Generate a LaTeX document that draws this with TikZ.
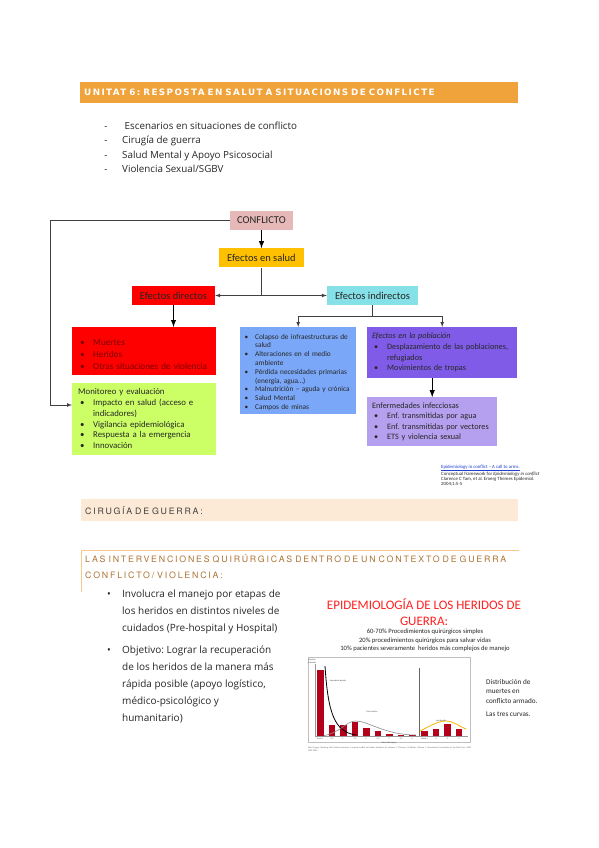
\documentclass[tikz,border=0pt]{standalone}
\usepackage{fontspec}
\setmainfont{Carlito}
\newfontfamily\bodyfont{Open Sans}
\newfontfamily\unitfont[LetterSpace=16]{DejaVu Sans}
\newfontfamily\cirfont[LetterSpace=20]{TeX Gyre Heros}
\newfontfamily\seccfont[LetterSpace=20.5]{TeX Gyre Heros}
\usetikzlibrary{positioning}
\hyphenpenalty=10000
\exhyphenpenalty=10000
\frenchspacing

\definecolor{unitorange}{HTML}{F0A33A}
\definecolor{peach}{HTML}{FCE9D6}
\definecolor{secbrown}{HTML}{AD7435}
\definecolor{secline}{HTML}{F6C98F}
\definecolor{txtdark}{HTML}{262626}
\definecolor{conflictopink}{HTML}{E6B9B8}
\definecolor{saludyellow}{HTML}{FFC000}
\definecolor{directred}{HTML}{FF0000}
\definecolor{darkred}{HTML}{7A0000}
\definecolor{indirectcyan}{HTML}{86E0E8}
\definecolor{monitorgreen}{HTML}{CCFF66}
\definecolor{infrablue}{HTML}{7AA7F7}
\definecolor{poblpurple}{HTML}{7F5BE8}
\definecolor{infeclav}{HTML}{B4A0EF}
\definecolor{citeblue}{HTML}{1F3FD0}
\definecolor{epired}{HTML}{FF2020}
\definecolor{barred}{HTML}{B3001B}
\definecolor{latecurve}{HTML}{F5B400}

\tikzstyle{headbox} = [rectangle, minimum height=19pt, inner sep=1pt, text=txtdark, font=\fontsize{10.5}{12}\selectfont]
\tikzstyle{listbox} = [rectangle, anchor=north west, align=left, text=txtdark]
\tikzstyle{conn} = [draw=black!75, line width=0.7pt]
\tikzstyle{bigarrow} = [->, draw=black, line width=1.4pt]
\tikzstyle{bodytext} = [anchor=north west, inner sep=0pt, align=left, text=txtdark, font=\bodyfont\fontsize{10}{17}\selectfont]
\tikzstyle{chartlbl} = [inner sep=0pt, text=black!70, font=\fontsize{2.2}{2.6}\selectfont, align=center]

\newcommand{\bitem}[2][15pt]{\par\noindent\makebox[#1][l]{\hspace*{.12\dimexpr#1\relax}\textbullet}#2}
\newcommand{\bcont}[2][15pt]{\par\noindent\hspace*{#1}#2}

\begin{document}
\begin{tikzpicture}[x=1pt, y=-1pt, node distance=18pt and 20pt, >=latex]
\useasboundingbox[fill=white] (0,0) rectangle (599,848);

\node[anchor=north west, fill=unitorange, text width=430pt, minimum height=21pt, inner xsep=4pt, align=left, text=white, font=\unitfont\bfseries\fontsize{8.8}{9}\selectfont] (unitat) at (80,82) {UNITAT 6: RESPOSTA EN SALUT A SITUACIONS DE CONFLICTE};

\foreach \t [count=\i] in {\ Escenarios en situaciones de conflicto, Cirugía de guerra, Salud Mental y Apoyo Psicosocial, Violencia Sexual/SGBV}{
  \node[anchor=base, inner sep=0pt, font=\bodyfont\fontsize{9.8}{12}\selectfont, text=txtdark] (guion\i) at (106,{129+14.5*(\i-1)}) {-};
  \node[anchor=base west, inner sep=0pt, font=\bodyfont\fontsize{9.8}{12}\selectfont, text=txtdark] (tema\i) at (122,{129+14.5*(\i-1)}) {\t};
}

\node[headbox, fill=conflictopink, minimum width=63pt] (conflicto) at (261.5,220.5) {CONFLICTO};
\node[headbox, fill=saludyellow, minimum width=85pt, below=18pt of conflicto] (salud) {Efectos en salud};
\draw[bigarrow] (conflicto) -- (salud);
\node[headbox, fill=directred, minimum width=83pt] (directos) at (173.5,295.5) {Efectos directos};
\node[headbox, fill=indirectcyan, minimum width=91pt] (indirectos) at (372.5,295.5) {Efectos indirectos};
\coordinate (split) at (salud.south |- directos);
\draw[conn] (salud) -- (split);
\draw[conn, ->] (split) -- (directos);
\draw[conn, ->] (split) -- (indirectos);

\node[listbox, fill=directred, text=darkred, text width=132pt, minimum height=41pt, inner sep=6pt, font=\fontsize{9.2}{12}\selectfont] (danos) at (72,327) {\bitem{Muertes}\bitem{Heridos}\bitem{Otras situaciones de violencia}};
\draw[bigarrow] (directos) -- (directos |- danos.north);
\node[listbox, fill=monitorgreen, text width=132pt, minimum height=71pt, inner sep=6pt, below=7pt of danos, font=\fontsize{8.8}{10.8}\selectfont] (monitoreo) {Monitoreo y evaluación\bitem{Impacto en salud (acceso e}\bcont{indicadores)}\bitem{Vigilancia epidemiológica}\bitem{Respuesta a la emergencia}\bitem{Innovación}};
\coordinate (retro) at (50,405);
\draw[conn] (conflicto.west) -| (retro);
\draw[conn, ->] (retro) -- (retro -| monitoreo.west);

\node[listbox, fill=infrablue, text width=110pt, minimum height=86pt, inner sep=3pt, font=\fontsize{7.3}{8.8}\selectfont] (colapso) at (240,327) {\bitem[12pt]{Colapso de infraestructuras de}\bcont[12pt]{salud}\bitem[12pt]{Alteraciones en el medio}\bcont[12pt]{ambiente}\bitem[12pt]{Pérdida necesidades primarias}\bcont[12pt]{(energía, agua…)}\bitem[12pt]{Malnutrición – aguda y crónica}\bitem[12pt]{Salud Mental}\bitem[12pt]{Campos de minas}};
\node[listbox, fill=poblpurple, text width=140pt, minimum height=48pt, inner xsep=5pt, inner ysep=6pt, font=\fontsize{8.2}{10.6}\selectfont] (poblacion) at (367,327) {\textit{Efectos en la población}\bitem[15pt]{Desplazamiento de las poblaciones,}\bcont{refugiados}\bitem[15pt]{Movimientos de tropas}};
\coordinate (bifur) at (indirectos.south |- 0,316);
\draw[conn] (indirectos) -- (bifur);
\draw[conn, ->] (bifur) -| (colapso.north);
\draw[conn, ->] (bifur) -| (poblacion.north);
\node[listbox, fill=infeclav, text width=120pt, minimum height=46pt, inner sep=5pt, below=19pt of poblacion.south west, anchor=north west, font=\fontsize{8.2}{10.6}\selectfont] (infecciosas) {Enfermedades infecciosas\bitem[15pt]{Enf. transmitidas por agua}\bitem[15pt]{Enf. transmitidas por vectores}\bitem[15pt]{ETS y violencia sexual}};
\draw[bigarrow] (poblacion.south -| infecciosas.north) -- (infecciosas.north);

\node[anchor=north west, inner sep=0pt, align=left, text=txtdark, font=\fontsize{4.8}{5.2}\selectfont] (cita) at (441,464.5) {\textcolor{citeblue}{\underline{Epidemiology in conflict – A call to arms.}}\\Conceptual framework for \textit{Epidemiology in conflict}\\Clarence C Tam, et al. Emerg Themes Epidemiol.\\2004;1:5-5};

\node[anchor=north west, fill=peach, text width=429pt, minimum height=22pt, inner xsep=4pt, align=left, text=black!75, font=\cirfont\fontsize{8.8}{9}\selectfont] (cirugia) at (81,499) {CIRUGÍA DE GUERRA:};

\node[anchor=north west, text width=430pt, inner xsep=4pt, inner ysep=4pt, align=left, text=secbrown, font=\seccfont\fontsize{8.8}{16.5}\selectfont] (intervenciones) at (81,550) {LAS INTERVENCIONES QUIRÚRGICAS DENTRO DE UN CONTEXTO DE GUERRA\\CONFLICTO/ VIOLENCIA:};
\draw[secline, line width=1pt] (intervenciones.north east) -- (intervenciones.north west) -- ++(0,42);

\node[anchor=base, inner sep=0pt, font=\bodyfont\fontsize{10}{17}\selectfont, text=txtdark] (punto1) at (109,597) {\textbullet};
\node[bodytext] (manejo) at (122,589.5) {Involucra el manejo por etapas de\\los heridos en distintos niveles de\\cuidados (Pre-hospital y Hospital)};
\node[anchor=base, inner sep=0pt, font=\bodyfont\fontsize{10}{17}\selectfont, text=txtdark] (punto2) at (109,653.5) {\textbullet};
\node[bodytext] (objetivo) at (122,646) {Objetivo: Lograr la recuperación\\de los heridos de la manera más\\rápida posible (apoyo logístico,\\médico-psicológico y\\humanitario)};

\node[align=center, inner sep=0pt, text=epired, font=\fontsize{13}{15.5}\selectfont] (epititulo) at (424,612) {EPIDEMIOLOGÍA DE LOS HERIDOS DE\\GUERRA:};
\node[align=center, inner sep=0pt, text=txtdark, font=\fontsize{6.6}{8.6}\selectfont] (epicifras) at (425,640.5) {60-70\% Procedimientos quirúrgicos simples\\20\% procedimientos quirúrgicos para salvar vidas\\10\% pacientes severamente \ heridos más complejos de manejo};

\draw[black!25, line width=0.4pt] (308,657) rectangle (470,742);
\draw[black!40, line width=0.3pt] (315,664) -- (315,736) -- (468,736);
\foreach \xl/\yt in {317/670, 328.5/725, 340/725, 351.5/722, 363/728, 374.5/731, 386/734, 397.5/734.5, 409/734.5, 421/731, 432.5/729, 444/724, 455.5/729}
  \fill[barred] (\xl,736) rectangle ({\xl+6.5},\yt);
\draw[black!60, line width=0.4pt] (419.5,668) -- (419.5,736);
\draw[black, line width=0.8pt] (325,666) .. controls (328,712) and (334,732) .. (356,735);
\draw[black!45, line width=0.6pt] (324,735.5) .. controls (340,733) and (346,721) .. (356,721) .. controls (368,721) and (385,735) .. (416,735);
\draw[latecurve, line width=0.8pt] (420,731) .. controls (430,726) and (438,721) .. (446,721) .. controls (454,721) and (460,727) .. (466,729);
\node[chartlbl] (numdeaths) at (312,661) {Number\\of deaths};
\node[chartlbl] (inmediatas) at (338,681) {Immediate deaths};
\node[chartlbl] (tempranas) at (372,712) {Early deaths};
\node[chartlbl] (tardias) at (441,721) {Late deaths};
\foreach \xl/\t [count=\i] in {320/Hour 0, 332/0.5, 343/1, 355/1.5, 366/2, 378/2.5, 389/3, 401/3.5, 412/4, 424.5/Week 1, 436/2, 447.5/3, 459/4}
  \node[chartlbl] (tick\i) at (\xl,739) {\t};
\node[chartlbl] (tiempo) at (389,742.5) {Time after injury};
\node[anchor=north west, inner sep=0pt, text width=165pt, align=left, text=black!60, font=\fontsize{2.2}{3}\selectfont] (fuente) at (308,746.5) {War Surgery. Working with limited resources in armed conflict and other situations of violence. C Giannou, M Baldan. Volume 1. International Committee of the Red Cross. 2009\\ICRC 2009};

\node[anchor=north west, inner sep=0pt, align=left, text=txtdark, font=\fontsize{7.2}{9.5}\selectfont] (distrib) at (486,679) {Distribución de\\muertes en\\conflicto armado.};
\node[anchor=north west, inner sep=0pt, text=txtdark, font=\fontsize{7.2}{9.5}\selectfont] (curvas) at (486,712) {Las tres curvas.};
\end{tikzpicture}
\end{document}
